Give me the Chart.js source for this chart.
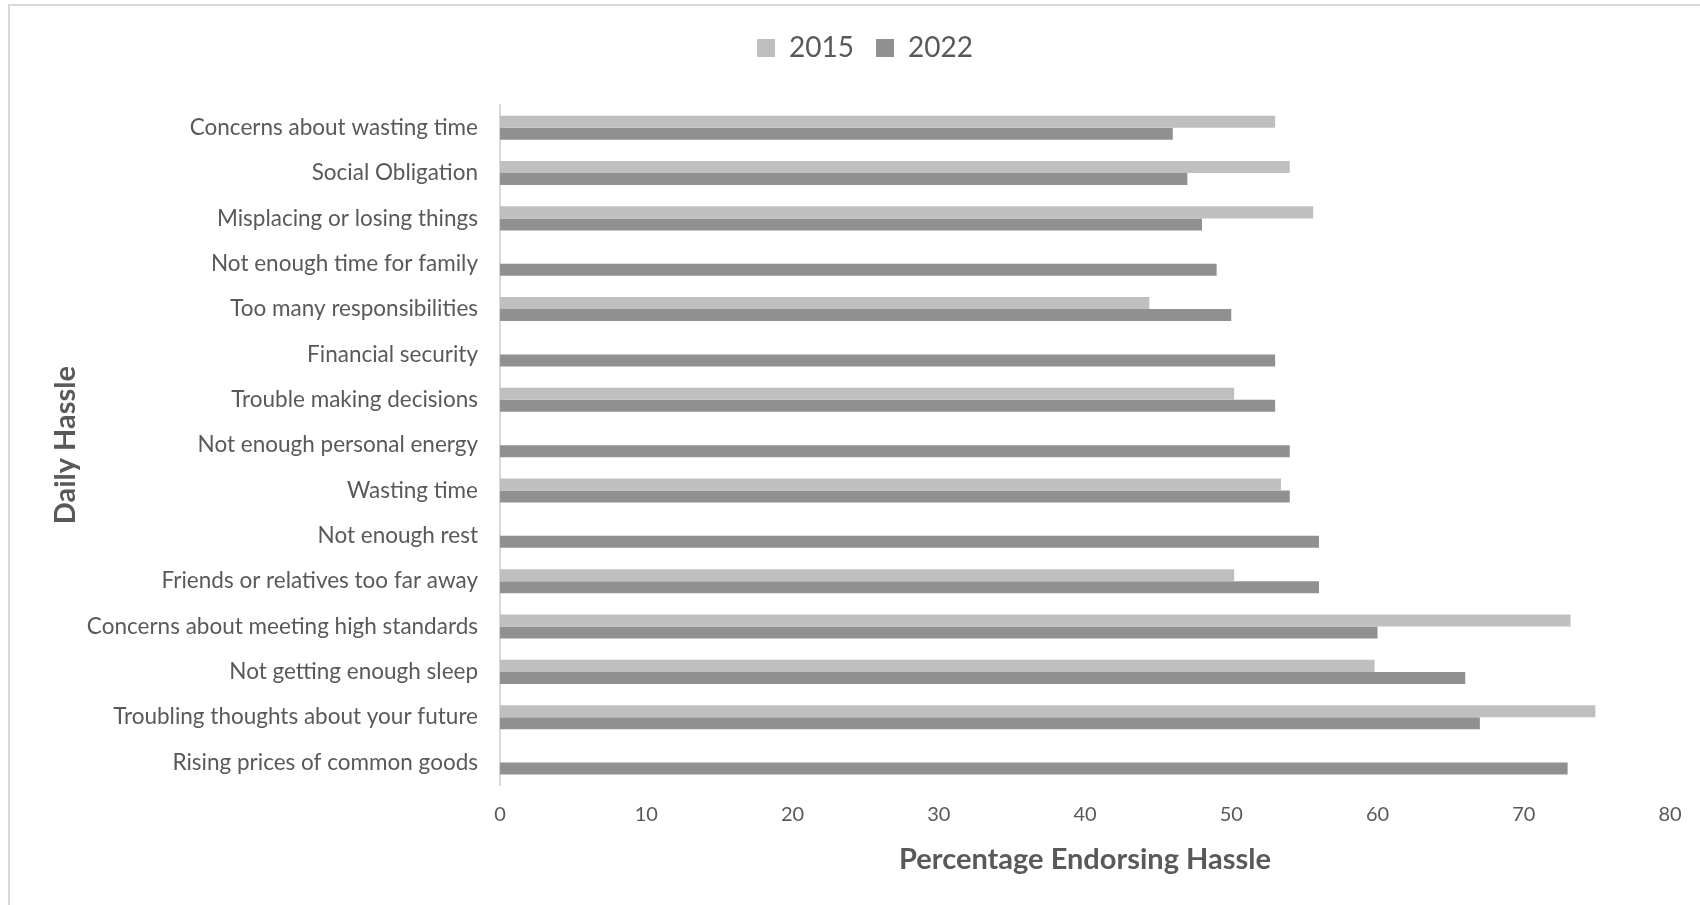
<!DOCTYPE html>
<html>
<head>
<meta charset="utf-8">
<script src="https://cdn.jsdelivr.net/npm/chart.js@4.4.0/dist/chart.umd.min.js"></script>
<style>
    html, body { margin: 0; padding: 0; background: #ffffff; }
    #wrap { position: relative; width: 1700px; height: 905px; overflow: hidden; }
    #frame { position: absolute; left: 8px; top: 4px; width: 1800px; height: 1000px;
             border-top: 2px solid #d9d9d9; border-left: 2px solid #d9d9d9; }
    canvas { position: absolute; left: 0; top: 0; }
</style>
</head>
<body>
<div id="wrap">
    <div id="frame"></div>
    <canvas id="hassle-chart" width="1700" height="905"></canvas>
</div>
<script>
// Datos del gráfico
const hassles = [
    "Concerns about wasting time",
    "Social Obligation",
    "Misplacing or losing things",
    "Not enough time for family",
    "Too many responsibilities",
    "Financial security",
    "Trouble making decisions",
    "Not enough personal energy",
    "Wasting time",
    "Not enough rest",
    "Friends or relatives too far away",
    "Concerns about meeting high standards",
    "Not getting enough sleep",
    "Troubling thoughts about your future",
    "Rising prices of common goods"
];
const values2015 = [53, 54, 55.6, null, 44.4, null, 50.2, null, 53.4, null, 50.2, 73.2, 59.8, 74.9, null];
const values2022 = [46, 47, 48, 49, 50, 53, 53, 54, 54, 56, 56, 60, 66, 67, 73];
const xTicks = [0, 10, 20, 30, 40, 50, 60, 70, 80];

const FONT = "Lato, 'Open Sans', sans-serif";
const TEXT = "#595959";

Chart.defaults.font.family = FONT;
Chart.defaults.color = TEXT;

// Espacio extra bajo la leyenda y un pequeño desplazamiento a la derecha
const legendGap = {
    id: "legendGap",
    beforeInit(chart) {
        const fit = chart.legend.fit;
        chart.legend.fit = function () {
            fit.bind(chart.legend)();
            this.height += 33;
        };
    },
    afterLayout(chart) {
        chart.legend.left += 8;
        chart.legend.right += 8;
    }
};

const ctx = document.getElementById("hassle-chart").getContext("2d");
new Chart(ctx, {
    type: "bar",
    data: {
        labels: hassles,
        datasets: [
            { label: "2015", data: values2015, backgroundColor: "#bfbfbf" },
            { label: "2022", data: values2022, backgroundColor: "#909090" }
        ]
    },
    options: {
        indexAxis: "y",
        responsive: false,
        animation: false,
        maintainAspectRatio: false,
        datasets: {
            bar: { categoryPercentage: 0.53, barPercentage: 1.0 }
        },
        layout: { padding: { top: 12, left: 44, right: 30, bottom: 26 } },
        plugins: {
            tooltip: { enabled: false },
            legend: {
                position: "top",
                labels: {
                    font: { size: 28 },
                    color: TEXT,
                    boxWidth: 18,
                    boxHeight: 18,
                    padding: 22
                }
            }
        },
        scales: {
            x: {
                min: 0,
                max: 80,
                grid: { display: false },
                border: { display: false },
                afterBuildTicks: (scale) => { scale.ticks = xTicks.map(v => ({ value: v })); },
                ticks: { font: { size: 20 }, color: TEXT, padding: 9 },
                title: {
                    display: true,
                    text: "Percentage Endorsing Hassle",
                    font: { size: 29, weight: "bold", lineHeight: 1.06 },
                    color: TEXT,
                    padding: { top: 9, bottom: 4 }
                }
            },
            y: {
                grid: { display: false },
                border: { display: true, color: "#d9d9d9", width: 2 },
                ticks: { font: { size: 22.5 }, color: TEXT, padding: 14 },
                afterFit: (scale) => { scale.width = 456; },
                title: {
                    display: true,
                    text: "Daily Hassle",
                    font: { size: 29, weight: "bold" },
                    color: TEXT
                }
            }
        }
    },
    plugins: [legendGap]
});
</script>
</body>
</html>
